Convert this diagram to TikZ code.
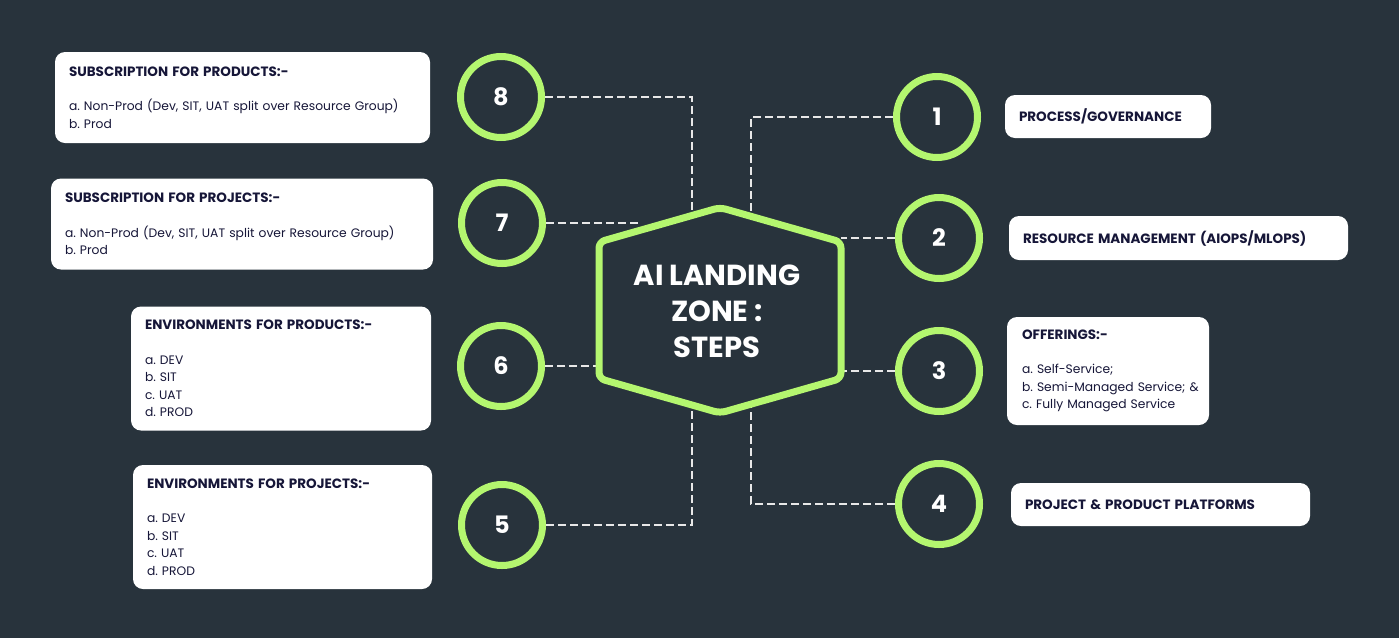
\documentclass[tikz,border=0pt]{standalone}
\usepackage{fontspec}
\setmainfont{Poppins}
\usetikzlibrary{positioning}

\definecolor{slateBg}{RGB}{40,51,60}
\definecolor{limeRing}{RGB}{180,246,111}
\definecolor{inkNavy}{RGB}{22,22,56}
\definecolor{dashGrey}{RGB}{232,232,232}

\newcommand{\boxhead}[1]{{\fontsize{13.5}{17.5}\selectfont\bfseries #1}}

\begin{document}
\frenchspacing
\begin{tikzpicture}[
        x=1pt, y=-1pt,
        stepRing/.style={
            circle, draw=limeRing, line width=7pt, minimum size=81pt, inner sep=0pt,
            text=white, font=\fontsize{24}{24}\selectfont\bfseries
        },
        infoBox/.style={
            rectangle, rounded corners=10pt, fill=white, text=inkNavy,
            inner xsep=14pt, inner ysep=0pt, align=left,
            font=\fontsize{12.3}{17.5}\selectfont
        },
        hubText/.style={
            text=white, align=center, font=\fontsize{29}{36}\selectfont\bfseries
        },
        link/.style={
            draw=dashGrey, line width=1.6pt, dash pattern=on 8pt off 4pt
        }
    ]
        % Background
        \fill[slateBg] (0,0) rectangle (1399,638);

        % Step circles
        \node (c1) [stepRing] at (937,117) {1};
        \node (c2) [stepRing] at (939,238) {2};
        \node (c3) [stepRing] at (939,371) {3};
        \node (c4) [stepRing] at (939,504) {4};
        \node (c5) [stepRing] at (502,525) {5};
        \node (c6) [stepRing] at (501,366) {6};
        \node (c7) [stepRing] at (502,223) {7};
        \node (c8) [stepRing] at (501,97) {8};

        % Info boxes
        \node (b1) [infoBox, text width=178pt, minimum height=43pt] at (1108,116.5) {\boxhead{PROCESS/GOVERNANCE}};
        \node (b2) [infoBox, text width=311pt, minimum height=44pt] at (1178.5,238) {\boxhead{RESOURCE MANAGEMENT (AIOPS/MLOPS)}};
        \node (b3) [infoBox, text width=172pt, inner xsep=15pt, minimum height=108pt] at (1108,371) {\boxhead{OFFERINGS:-}\\[17pt] a. Self-Service;\\ \mbox{b. Semi-Managed Service; \&}\\ c. Fully Managed Service};
        \node (b4) [infoBox, text width=271pt, minimum height=43pt] at (1160.5,504.5) {\boxhead{PROJECT \& PRODUCT PLATFORMS}};
        \node (b5) [infoBox, text width=271pt, minimum height=124pt] at (282.5,527) {\boxhead{ENVIRONMENTS FOR PROJECTS:-}\\[17pt] a. DEV\\ b. SIT\\ c. UAT\\ d. PROD};
        \node (b6) [infoBox, text width=272pt, minimum height=124pt] at (281,368.5) {\boxhead{ENVIRONMENTS FOR PRODUCTS:-}\\[17pt] a. DEV\\ b. SIT\\ c. UAT\\ d. PROD};
        \node (b7) [infoBox, text width=354pt, minimum height=91pt] at (242,224) {\boxhead{SUBSCRIPTION FOR PROJECTS:-}\\[17pt] a. Non-Prod (Dev, SIT, UAT split over Resource Group)\\ b. Prod};
        \node (b8) [infoBox, text width=347pt, minimum height=91pt] at (242.5,97.5) {\boxhead{SUBSCRIPTION FOR PRODUCTS:-}\\[17pt] a. Non-Prod (Dev, SIT, UAT split over Resource Group)\\ b. Prod};

        % Hexagon corners and the points where the links meet it
        \coordinate (hexT) at (720,207.5);
        \coordinate (hexUR) at (841,242);
        \coordinate (hexLR) at (841,378.5);
        \coordinate (hexB) at (720,413);
        \coordinate (hexLL) at (599,378.5);
        \coordinate (hexUL) at (599,242);
        \coordinate (h1) at (751,216.3);
        \coordinate (h2) at (841,238);
        \coordinate (h3) at (841,371);
        \coordinate (h4) at (751,404.2);
        \coordinate (h5) at (692,405);
        \coordinate (h6) at (599,366);
        \coordinate (h7) at (637,231.2);
        \coordinate (h8) at (692,215.5);

        % Links
        \draw [link] (c1.west) -| (h1);
        \draw [link] (c2.west) -- (h2);
        \draw [link] (c3.west) -- (h3);
        \draw [link] (c4.west) -| (h4);
        \draw [link] (c5.east) -| (h5);
        \draw [link] (c6.east) -- (h6);
        \draw [link] (c7.east) -| (h7);
        \draw [link] (c8.east) -| (h8);

        % Hub
        \draw [limeRing, line width=7pt, rounded corners=6pt, line join=round]
            (599,310) -- (hexUL) -- (hexT) -- (hexUR) -- (hexLR) -- (hexB) -- (hexLL) -- cycle;
        \node (hub) [hubText] at (717,311) {AI LANDING\\ZONE :\\STEPS};
    \end{tikzpicture}
\end{document}
